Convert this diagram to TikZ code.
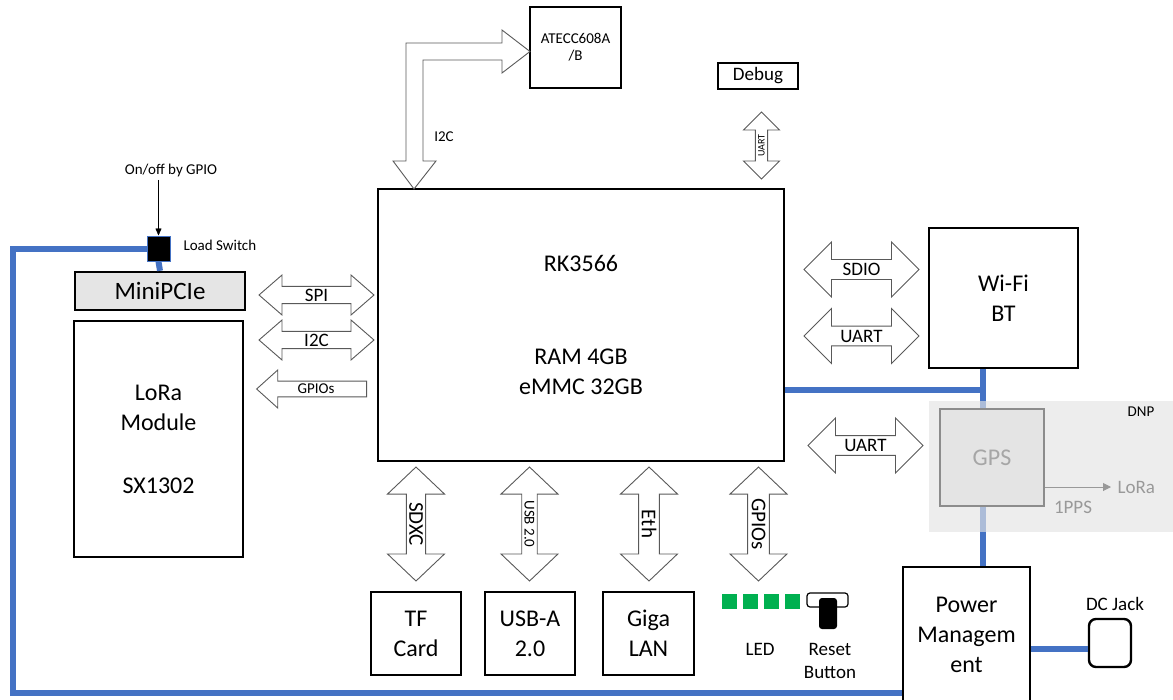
\documentclass[tikz,border=0pt]{standalone}
\usepackage{fontspec}
\setmainfont{Carlito}
\usepackage{tikz}
\usetikzlibrary{shapes,arrows.meta,positioning,calc}

\definecolor{pwrblue}{RGB}{68,114,196}
\definecolor{ledgreen}{RGB}{0,176,80}
\definecolor{dnpgray}{RGB}{228,228,228}

\newcommand{\fbig}{\fontsize{24}{30}\selectfont}
\newcommand{\fmid}{\fontsize{19}{23}\selectfont}
\newcommand{\fsmall}{\fontsize{15}{17}\selectfont}
\newcommand{\ftiny}{\fontsize{10}{12}\selectfont}

\tikzset{
  blk/.style={draw=black, line width=2.4pt, inner sep=0pt, align=center, font=\fbig},
  pwr/.style={pwrblue, line width=6pt},
  busarrow/.style={double arrow, draw=black!65, line width=0.9pt, fill=white, inner sep=1pt,
    double arrow tip angle=90, font=\fmid},
  sidebus/.style={busarrow, minimum height=115, minimum width=55, double arrow head extend=13.5},
  downbus/.style={busarrow, rotate=-90, minimum height=114, minimum width=57, double arrow tip angle=93},
}

\begin{document}
\begin{tikzpicture}[x=1pt,y=-1pt]
\useasboundingbox (0,0) rectangle (1173,699);

% SoC and its neighbours
\node[blk, minimum width=406, minimum height=272] (rk) at (581,325) {RK3566\\[63pt]RAM 4GB\\eMMC 32GB};
\node[blk, font=\fsmall, minimum width=91, minimum height=81] (atecc) at (575.5,47.5) {ATECC608A\\/B};
\node[blk, font=\fmid, line width=2pt, minimum width=80, minimum height=26] (debug) at (758,76) {Debug};
\node[busarrow, rotate=90, font=\ftiny, minimum height=67, minimum width=36, double arrow head extend=9] (dbguart) at (761.5,145.5) {UART};

% I2C to the secure element
\draw[draw=black!65, line width=0.9pt, fill=white] (414,189) -- (436,161) -- (423,161) -- (423,60) -- (502,60)
  -- (502,73) -- (530,51.5) -- (502,30) -- (502,43) -- (406,43) -- (406,161) -- (393,161) -- cycle;
\node[font=\fsmall] (i2clbl) at (444,137) {I2C};

% LoRa side
\node[fill=black, draw=pwrblue, line width=1pt, minimum width=23, minimum height=25, inner sep=0] (ls) at (158.5,248.5) {};
\node[font=\fsmall, anchor=west] (lslbl) at (180,245) {Load Switch};
\node[font=\fsmall] (onoff) at (171,170) {On/off by GPIO};
\draw[-{Triangle[length=7pt,width=6pt]}] (onoff.south -| ls.north) -- (ls.north);
\node[blk, fill=black!10, minimum width=170, minimum height=38, font=\fontsize{25}{30}\selectfont] (pcie) at (160,291) {MiniPCIe};
\node[blk, minimum width=169, minimum height=236] (lora) at (158.5,439) {LoRa\\Module\\[33pt]SX1302};

\node[busarrow, minimum height=115, minimum width=40, double arrow head extend=10, double arrow tip angle=82] (spi) at (316.5,295) {SPI};
\node[busarrow, minimum height=115, minimum width=40, double arrow head extend=10, double arrow tip angle=82] (i2c) at (316.5,340) {I2C};
\node[single arrow, shape border rotate=180, draw=black!65, line width=0.9pt, fill=white, inner sep=1pt,
  minimum height=110, minimum width=38, single arrow head extend=9, single arrow tip angle=84, font=\fsmall] (gpiol) at (316,389) {GPIOs};

% radio side
\node[sidebus] (sdio) at (861.5,269.5) {SDIO};
\node[sidebus] (uart1) at (861.5,336) {UART};
\node[sidebus] (uart2) at (865.5,445.5) {UART};
\node[blk, minimum width=149, minimum height=140] (wifi) at (1003.5,298) {Wi-Fi\\BT};

% bottom interfaces
\node[downbus, double arrow head extend=16.5, font=\fontsize{21}{25}\selectfont] (sdxc) at (416,524) {SDXC};
\node[downbus, double arrow head extend=17, font=\fsmall] (usb) at (529.5,524) {USB 2.0};
\node[downbus, double arrow head extend=15.5, font=\fontsize{21}{25}\selectfont] (eth) at (649,524) {Eth};
\node[downbus, double arrow head extend=13.5, font=\fontsize{21}{25}\selectfont] (gpiob) at (758.5,524) {GPIOs};

\node[blk, minimum width=90, minimum height=83] (tf) at (416,633.5) {TF\\Card};
\node[blk, minimum width=90, minimum height=83] (usba) at (530,633.5) {USB-A\\2.0};
\node[blk, minimum width=91, minimum height=83] (lan) at (648.5,633.5) {Giga\\LAN};

\foreach \i in {0,...,3}
  \node[fill=ledgreen, minimum size=15, inner sep=0] (led\i) at (729.5+21*\i,601.5) {};
\node[font=\fmid] (ledlbl) at (760,649) {LED};
\node[draw, rounded corners=3pt, line width=1.2pt, minimum width=41, minimum height=14, inner sep=0] (rstbase) at (827.5,600) {};
\node[fill=black, rounded corners=3pt, minimum width=18, minimum height=31, inner sep=0] (rstknob) at (828,613.5) {};
\node[font=\fmid, align=center] (rstlbl) at (830,661) {Reset\\Button};

% power
\node[blk, minimum width=127, minimum height=136] (pm) at (966.5,635) {Power\\Managem\\ent};
\node[draw, line width=2.4pt, rounded corners=7pt, minimum width=42, minimum height=48, inner sep=0] (dc) at (1110,643) {};
\node[font=\fmid] (dclbl) at (1115,604) {DC Jack};

\coordinate (blc) at (13,693);
\coordinate (pj) at (983,390);
\coordinate (pmout) at ($(pm.east)+(0,14)$);
\draw[pwr] (ls.west) -| (blc) -- (blc -| pm.west);
\draw[pwr] (ls.south) -- (pcie.north);
\draw[pwr] (rk.east |- pj) -- (pj);
\draw[pwr] (wifi.south -| pj) -- (pm.north -| pj);
\draw[pwr] (pmout) -- (pmout -| dc.west);

% not populated
\node[fill=dnpgray, fill opacity=0.65, minimum width=250, minimum height=131, inner sep=0] (dnp) at (1054,466.5) {};
\node[font=\fsmall] (dnplbl) at (1141,412) {DNP};
\node[draw=black!45, line width=2pt, fill=dnpgray, text=black!35, font=\fbig, minimum width=104, minimum height=97] (gps) at (992,457.5) {GPS};
\coordinate (ppsend) at (1111,487);
\draw[black!40, line width=1pt, -{Triangle[length=8pt,width=8pt]}] (gps.east |- ppsend) -- (ppsend);
\node[text=black!40, font=\fmid, right=3pt of ppsend] (loraout) {LoRa};
\node[text=black!40, font=\fmid] (ppslbl) at (1073,507) {1PPS};
\end{tikzpicture}
\end{document}
